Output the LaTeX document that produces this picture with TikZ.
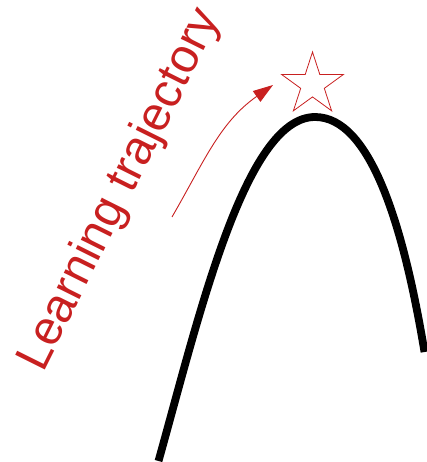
\documentclass[tikz,border=0pt]{standalone}
\usepackage{fontspec}
\setmainfont{Liberation Sans}
\usetikzlibrary{shapes.geometric,arrows.meta}
\definecolor{lred}{RGB}{200,32,32}
\tikzset{
  curveline/.style={line width=7.8pt, black, line cap=butt, line join=round},
  trajline/.style={lred, line width=0.9pt, -{Triangle[length=20pt,width=13pt]}},
  goalstar/.style={star, star points=5, star point ratio=2.618, minimum size=65pt, inner sep=0pt, draw=lred, line width=0.8pt},
  label/.style={text=lred, inner sep=0pt, font=\fontsize{48}{50}\selectfont}
}
\begin{document}
\begin{tikzpicture}[x=1pt,y=-1pt]
\useasboundingbox (0,0) rectangle (427,462);
\coordinate (cstart) at (158.5,461);
\coordinate (cpeak) at (315,117);
\coordinate (cend) at (424.5,352);
\draw[curveline] (cstart) .. controls (199,316.5) and (245,117) .. (cpeak)
  .. controls (370,117) and (403.2,223.8) .. (cend);
\node[goalstar] (goal) at (312.5,84.5) {};
\coordinate (tstart) at (172,217);
\coordinate (tend) at (273,85);
\draw[trajline] (tstart) to[out=60,in=215] (tend);
\node[label, rotate=63.5, anchor=base west] (lt) at (43,374) {Learning trajectory};
\end{tikzpicture}
\end{document}
